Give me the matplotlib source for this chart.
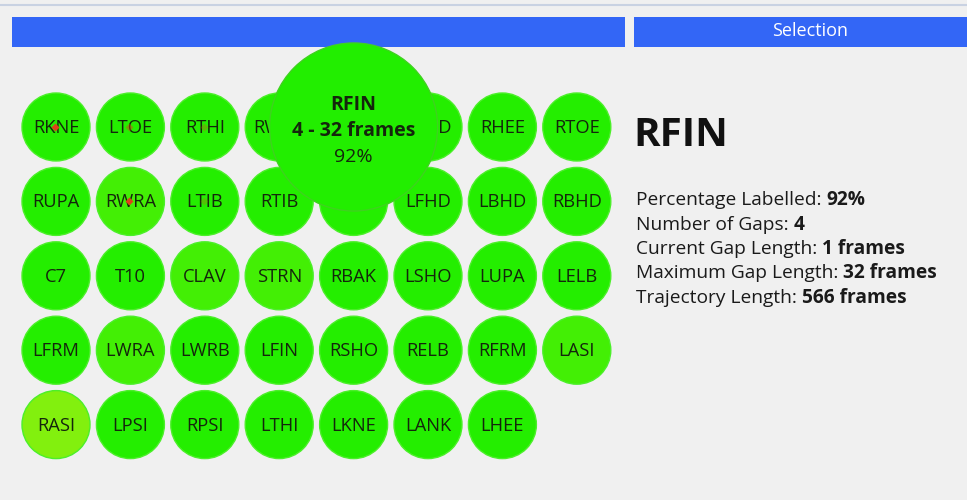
"""
Pregled oznacenosti markera (marker grid) sa detaljem za odabrani marker.
"""

import matplotlib.pyplot as plt
from matplotlib.colors import LinearSegmentedColormap
from matplotlib.patches import Circle, Rectangle

plt.rcParams["font.family"] = ["Open Sans", "DejaVu Sans"]

# --- podaci ---
marker_rows = [
    ["RKNE", "LTOE", "RTHI", "RWRB", "RFIN", "RFHD", "RHEE", "RTOE"],
    ["RUPA", "RWRA", "LTIB", "RTIB", "RANK", "LFHD", "LBHD", "RBHD"],
    ["C7", "T10", "CLAV", "STRN", "RBAK", "LSHO", "LUPA", "LELB"],
    ["LFRM", "LWRA", "LWRB", "LFIN", "RSHO", "RELB", "RFRM", "LASI"],
    ["RASI", "LPSI", "RPSI", "LTHI", "LKNE", "LANK", "LHEE"],
]
# kvalitet trajektorije (1 = potpuno zeleno, manje = zuckastije)
quality_rows = [
    [1.0, 1.0, 1.0, 1.0, 1.0, 1.0, 1.0, 1.0],
    [1.0, 0.85, 1.0, 1.0, 1.0, 1.0, 1.0, 1.0],
    [1.0, 1.0, 0.85, 0.85, 1.0, 1.0, 1.0, 1.0],
    [1.0, 0.85, 1.0, 1.0, 1.0, 1.0, 1.0, 0.85],
    [0.55, 1.0, 1.0, 1.0, 1.0, 1.0, 1.0],
]
# markeri sa trenutnim prekidom (crvena tacka) i jacina tacke
gap_markers = ["RKNE", "RWRA", "LTOE", "RTHI", "LTIB"]
gap_strength = [1.0, 1.0, 0.45, 0.3, 0.25]

selected = "RFIN"
sel_gaps = 4
sel_max_gap = 32
sel_pct = 92
sel_cur_gap = 1
sel_traj_len = 566

info_labels = ["Percentage Labelled: ", "Number of Gaps: ", "Current Gap Length: ",
               "Maximum Gap Length: ", "Trajectory Length: "]
info_values = [f"{sel_pct}%", f"{sel_gaps}", f"{sel_cur_gap} frames",
               f"{sel_max_gap} frames", f"{sel_traj_len} frames"]

# --- izgled ---
BG = "#f0f0f0"
BLUE = "#3366f6"
TXT = "#14260c"
cmap = LinearSegmentedColormap.from_list("q", ["#d8f020", "#8cf010", "#24ee00"])

x0, y0, step, r = 56, 127, 74.4, 34
big_r = 84

fig = plt.figure(figsize=(9.67, 5.0), dpi=100, facecolor=BG)
ax = fig.add_axes([0, 0, 1, 1])
ax.set_xlim(0, 967)
ax.set_ylim(500, 0)
ax.set_aspect("equal")
ax.axis("off")
ax.set_facecolor(BG)

# zaglavlje
ax.axhline(5, color="#c9d2e2", lw=1.5)
ax.add_patch(Rectangle((12, 17), 613, 30, color=BLUE, lw=0))
ax.add_patch(Rectangle((634, 17), 340, 30, color=BLUE, lw=0))
ax.text(810, 31, "Selection", color="white", fontsize=13, ha="center", va="center")

sel_pos = None
for i, (names, quals) in enumerate(zip(marker_rows, quality_rows)):
    for j, (name, q) in enumerate(zip(names, quals)):
        cx, cy = x0 + j * step, y0 + i * step
        col = cmap(q)
        circ = Circle((cx, cy), r, facecolor=col, edgecolor="#4cef2a",
                      lw=1, zorder=2)
        ax.add_patch(circ)
        if name == selected:
            sel_pos = (cx, cy)
            continue
        ax.text(cx, cy + 1, name, color=TXT, fontsize=13.2, ha="center",
                va="center", zorder=3, clip_path=circ)
        if name in gap_markers:
            a = gap_strength[gap_markers.index(name)]
            ax.plot(cx - 1, cy, "D", ms=4.5, color="#e0401a", alpha=a,
                    mec="none", zorder=4)

# uvecani (hover) marker
cx, cy = sel_pos
ax.add_patch(Circle((cx, cy), big_r, facecolor="#22ee00", edgecolor="#3fd21f",
                    lw=1, zorder=5))
ax.text(cx, cy - 22, selected, color=TXT, fontsize=14, fontweight="bold",
        ha="center", va="center", zorder=6)
ax.text(cx, cy + 4, f"{sel_gaps} - {sel_max_gap} frames", color=TXT, fontsize=14,
        fontweight="bold", ha="center", va="center", zorder=6)
ax.text(cx, cy + 30, f"{sel_pct}%", color=TXT, fontsize=14, ha="center",
        va="center", zorder=6)

# desni panel
ax.text(633, 135, selected, color="#111111", fontsize=29, fontweight="bold",
        va="center", ha="left")
for k, (lab, val) in enumerate(zip(info_labels, info_values)):
    y = 200 + k * 24.5
    t = ax.text(636, y, lab, color="#1a1a1a", fontsize=13.8, va="center", ha="left")
    ax.annotate(val, xycoords=t, xy=(1, 0.5), va="center", ha="left",
                color="#1a1a1a", fontsize=13.8, fontweight="bold")

fig.savefig("out.png", dpi=100, facecolor=BG)
